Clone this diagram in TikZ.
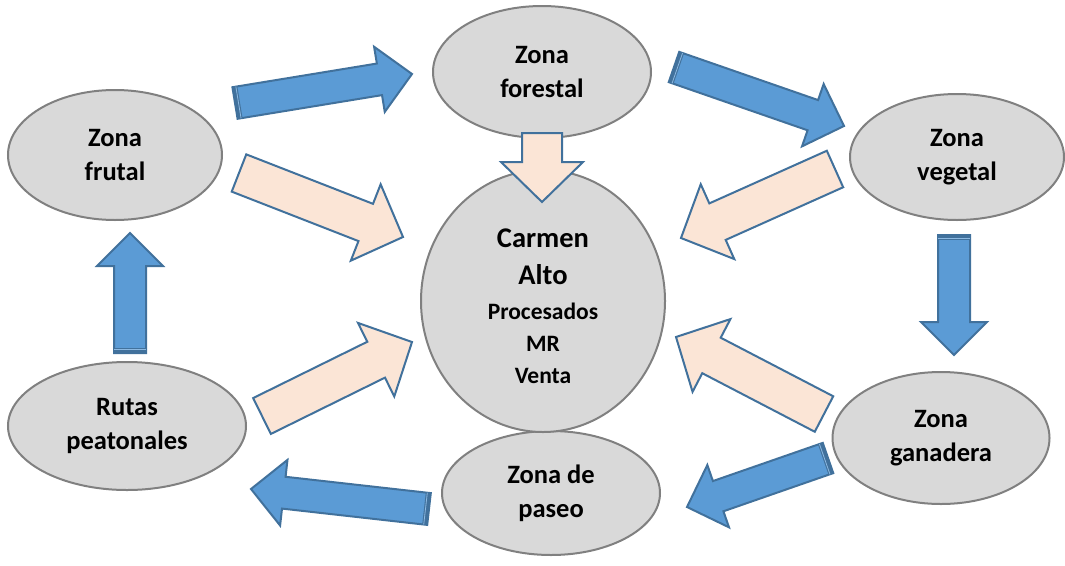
\documentclass[tikz,border=0pt]{standalone}
\usepackage{fontspec}
\setmainfont{Carlito}
\usetikzlibrary{shapes.geometric,calc}

\definecolor{zonegray}{HTML}{D9D9D9}
\definecolor{zoneline}{HTML}{808080}
\definecolor{arrowblue}{HTML}{5B9BD5}
\definecolor{arrowline}{HTML}{41719C}
\definecolor{arrowpeach}{HTML}{FBE5D6}

% block arrow: style, tail, tip, half shaft, half head, head length
\newcommand{\blockarrow}[6]{%
  \coordinate (neck) at ($(#3)!#6!(#2)$);
  \draw[#1] ($(#2)!#4!90:(#3)$) -- ($(neck)!#4!-90:(#2)$) -- ($(neck)!#5!-90:(#2)$) -- (#3)
    -- ($(neck)!#5!90:(#2)$) -- ($(neck)!#4!90:(#2)$) -- ($(#2)!#4!-90:(#3)$) -- cycle;
}
% dark band at the tail of a blue arrow
\newcommand{\tailband}[3]{%
  \coordinate (band) at ($(#1)!5pt!(#2)$);
  \coordinate (gap) at ($(#1)!3.5pt!(#2)$);
  \fill[arrowline] ($(#1)!#3!90:(#2)$) -- ($(band)!#3!-90:(#1)$) -- ($(band)!#3!90:(#1)$) -- ($(#1)!#3!-90:(#2)$) -- cycle;
  \draw[arrowblue!70, line width=0.8pt] ($(gap)!#3!-90:(#1)$) -- ($(gap)!#3!90:(#1)$);
}

\begin{document}
\begin{tikzpicture}[x=1pt, y=-1pt,
    zone/.style={ellipse, draw=zoneline, fill=zonegray, line width=2pt, inner sep=0pt, outer sep=0pt,
      align=center, font=\fontsize{26.5}{34}\selectfont\bfseries},
    bluearrow/.style={draw=arrowline, fill=arrowblue, line width=2pt, line join=miter},
    peacharrow/.style={draw=arrowline, fill=arrowpeach, line width=2pt, line join=miter}]
  \useasboundingbox (0,0) rectangle (1065,565);

  % zones
  \node[zone, minimum width=218pt, minimum height=132pt] (forestal) at (542,72) {Zona\\forestal};
  \node[zone, minimum width=214pt, minimum height=130pt] (frutal) at (115,155) {Zona\\frutal};
  \node[zone, minimum width=214pt, minimum height=126pt] (vegetal) at (957,157) {Zona\\vegetal};
  \node[zone, minimum width=238pt, minimum height=128pt] (peatonales) at (127,426) {Rutas\\peatonales};
  \node[zone, minimum width=217pt, minimum height=132pt] (ganadera) at (941,438) {Zona\\ganadera};
  \node[zone, minimum width=218pt, minimum height=124pt] (paseo) at (551,493) {Zona de\\paseo};
  \node[zone, minimum width=244pt, minimum height=262pt, font=\fontsize{23.5}{32}\selectfont\bfseries] (carmen) at (543,301)
    {{\fontsize{28.5}{37}\selectfont\rule{0pt}{29pt}Carmen}\\[5pt]{\fontsize{28.5}{37}\selectfont Alto}\\[3pt]Procesados\\MR\\Venta};

  % arrow ends
  \coordinate (t1) at (235,103);  \coordinate (h1) at (412,74);
  \coordinate (t2) at (239,173);  \coordinate (h2) at (403,237);
  \coordinate (t3) at (674,67);   \coordinate (h3) at (844,126);
  \coordinate (t4) at (542,133);  \coordinate (h4) at (542,202);
  \coordinate (t5) at (835,169);  \coordinate (h5) at (681,238);
  \coordinate (t6) at (824,414);  \coordinate (h6) at (676,337);
  \coordinate (t7) at (262,416);  \coordinate (h7) at (412,342);
  \coordinate (t8) at (429,509);  \coordinate (h8) at (251,489);
  \coordinate (t9) at (828,458);  \coordinate (h9) at (687,507);
  \coordinate (t10) at (954,235); \coordinate (h10) at (954,355);
  \coordinate (t11) at (130,353); \coordinate (h11) at (130,233);

  % blue arrows round the ring
  \foreach \a in {1,3,8,9,10,11} {
    \blockarrow{bluearrow}{t\a}{h\a}{16pt}{33pt}{33pt}
    \tailband{t\a}{h\a}{16pt}
  }

  % peach arrows into Carmen Alto
  \foreach \a in {2,4,5,6,7} {
    \blockarrow{peacharrow}{t\a}{h\a}{20pt}{41pt}{40pt}
  }
\end{tikzpicture}
\end{document}
